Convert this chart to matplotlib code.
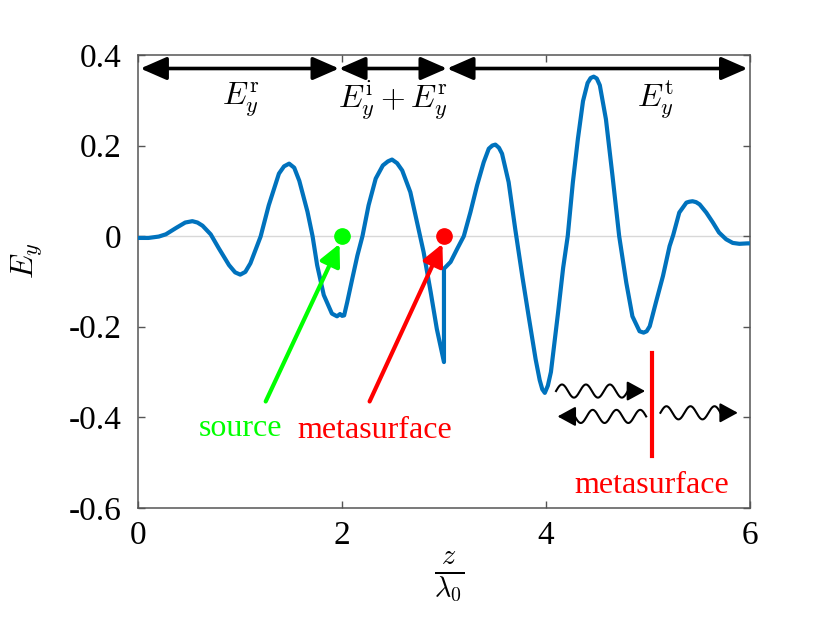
import matplotlib
matplotlib.use('Agg')
import matplotlib.pyplot as plt
import numpy as np

plt.rcParams['font.family'] = ['Liberation Serif', 'DejaVu Serif']
plt.rcParams['mathtext.fontset'] = 'cm'

# field (z / lambda0, Ey)
z = [0.00, 0.10, 0.20, 0.27, 0.37, 0.46, 0.53, 0.58, 0.63, 0.71,
     0.79, 0.89, 0.95, 1.00, 1.05, 1.10, 1.20, 1.28, 1.38, 1.43,
     1.48, 1.53, 1.58, 1.66, 1.71, 1.755, 1.82, 1.90, 1.95, 1.98,
     2.00, 2.02, 2.05, 2.10, 2.15, 2.20, 2.26, 2.33, 2.40, 2.45,
     2.49, 2.54, 2.59, 2.67, 2.75, 2.80, 2.87, 2.93, 3.00, 3.00,
     3.065, 3.13, 3.195, 3.26, 3.325, 3.39, 3.44, 3.475, 3.505, 3.54,
     3.57, 3.635, 3.70, 3.77, 3.83, 3.90, 3.94, 3.965, 3.99, 4.02,
     4.05, 4.12, 4.17, 4.215, 4.265, 4.315, 4.365, 4.41, 4.44, 4.47,
     4.50, 4.53, 4.59, 4.655, 4.72, 4.79, 4.85, 4.92, 4.96, 4.99,
     5.02, 5.08, 5.15, 5.215, 5.25, 5.31, 5.38, 5.41, 5.44, 5.475,
     5.51, 5.575, 5.64, 5.70, 5.77, 5.835, 5.90, 5.98, 6.00]
Ey = [-0.004, -0.004, -0.001, 0.004, 0.018, 0.030, 0.033, 0.030, 0.023, 0.004,
      -0.027, -0.064, -0.080, -0.085, -0.079, -0.060, -0.001, 0.068, 0.138, 0.154,
      0.160, 0.151, 0.122, 0.054, 0.000, -0.064, -0.130, -0.171, -0.177, -0.172,
      -0.176, -0.175, -0.146, -0.094, -0.043, 0.000, 0.068, 0.127, 0.156, 0.165,
      0.169, 0.161, 0.145, 0.097, 0.016, -0.035, -0.124, -0.205, -0.278, -0.072,
      -0.057, -0.028, 0.000, 0.053, 0.112, 0.163, 0.193, 0.200, 0.202, 0.195,
      0.182, 0.119, 0.015, -0.090, -0.175, -0.272, -0.318, -0.338, -0.346, -0.330,
      -0.300, -0.169, -0.070, 0.000, 0.118, 0.215, 0.298, 0.338, 0.349, 0.352,
      0.348, 0.333, 0.258, 0.132, 0.000, -0.103, -0.177, -0.210, -0.213, -0.210,
      -0.199, -0.147, -0.088, -0.022, 0.002, 0.052, 0.074, 0.076, 0.077, 0.075,
      0.070, 0.052, 0.030, 0.008, -0.007, -0.015, -0.017, -0.016, -0.016]

source_z = 2
meta_z = 3
xticks = [0, 2, 4, 6]
yticks = [-0.6, -0.4, -0.2, 0, 0.2, 0.4]
ytick_labels = ['-0.6', '-0.4', '-0.2', '0', '0.2', '0.4']
regions = [(0.02, 1.97), (1.97, 3.03), (3.03, 5.98)]
region_labels = [r'$E_y^{\rm r}$', r'$E_y^{\rm i}+E_y^{\rm r}$', r'$E_y^{\rm t}$']
region_label_x = [1.0, 2.5, 5.07]

fig = plt.figure(figsize=(8.31, 6.24), dpi=100)
ax = fig.add_axes([0.1665, 0.186, 0.7355, 0.726])

ax.axhline(0, color='#d8d8d8', lw=1, zorder=1)
ax.plot(z, Ey, color='#0072BD', lw=3, zorder=3, solid_joinstyle='round')

ax.plot(source_z, 0, 'o', color='#00ff00', ms=11, zorder=4)
ax.plot(meta_z, 0, 'o', color='#ff0000', ms=11, zorder=4)

# arrows to source and metasurface
ax.annotate('', xy=(1.975, -0.017), xytext=(1.25, -0.365),
            arrowprops=dict(arrowstyle='-|>,head_length=0.65,head_width=0.32',
                            mutation_scale=20, lw=3, color='#00ff00', shrinkA=0, shrinkB=0), zorder=5)
ax.annotate('', xy=(2.985, -0.017), xytext=(2.27, -0.365),
            arrowprops=dict(arrowstyle='-|>,head_length=0.65,head_width=0.32',
                            mutation_scale=20, lw=3, color='#ff0000', shrinkA=0, shrinkB=0), zorder=5)
ax.text(1.0, -0.425, 'source', color='#00ff00', fontsize=23, ha='center', va='center')
ax.text(2.32, -0.428, 'metasurface', color='#ff0000', fontsize=23, ha='center', va='center')

# region arrows on top
for (a, b), lab, lx in zip(regions, region_labels, region_label_x):
    ax.annotate('', xy=(b, 0.37), xytext=(a, 0.37),
                arrowprops=dict(arrowstyle='<|-|>,head_length=0.8,head_width=0.35',
                                mutation_scale=20, lw=2.6, color='k', shrinkA=0, shrinkB=0))
    ax.text(lx, 0.30, lab, fontsize=23, ha='center', va='center')

# sketch of the metasurface with waves
def wavy_arrow(x0, tip, y0, ncyc):
    # wavy line from x0 towards tip, straight arrow head at the end
    x1 = tip - 0.17 if tip > x0 else tip + 0.17
    xs = np.linspace(x0, x1, 200)
    ys = y0 + 0.0145 * np.sin(2 * np.pi * ncyc * (xs - x0) / (x1 - x0))
    ax.plot(xs, ys, color='k', lw=1.5, zorder=5)
    ax.annotate('', xy=(tip, y0), xytext=(x1, y0),
                arrowprops=dict(arrowstyle='-|>,head_length=1.1,head_width=0.6',
                                mutation_scale=10, lw=1.5, color='k', shrinkA=0, shrinkB=0))

wavy_arrow(4.10, 4.975, -0.342, 3)
wavy_arrow(4.985, 4.115, -0.398, 3)
wavy_arrow(5.125, 5.885, -0.390, 2.5)
ax.plot([5.04, 5.04], [-0.259, -0.486], color='#ff0000', lw=3, zorder=5)
ax.text(5.035, -0.55, 'metasurface', color='#ff0000', fontsize=23, ha='center', va='center')

ax.set_xlim(0, 6)
ax.set_ylim(-0.6, 0.4)
ax.set_xticks(xticks)
ax.set_yticks(yticks)
ax.set_yticklabels(ytick_labels)
ax.tick_params(direction='in', top=True, right=True, length=5, width=1,
               color='#555555', labelsize=24)
ax.tick_params(axis='x', pad=9)
ax.tick_params(axis='y', pad=12)
for s in ax.spines.values():
    s.set_color('#555555')
    s.set_linewidth(1.1)

ax.set_ylabel(r'$E_y$', fontsize=23)
ax.yaxis.set_label_coords(-0.153, 0.545)
ax.set_xlabel(r'$\frac{z}{\lambda_0}$', fontsize=29)
ax.xaxis.set_label_coords(0.509, -0.095)

fig.savefig('out.png', dpi=100)
